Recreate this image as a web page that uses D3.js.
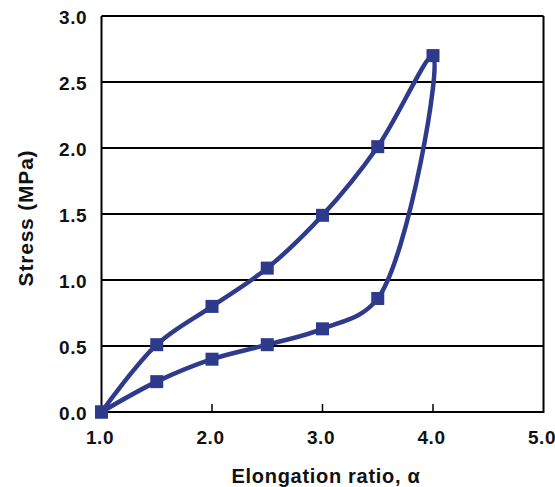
<!DOCTYPE html>
<html>
<head>
<meta charset="utf-8">
<script src="https://cdn.jsdelivr.net/npm/d3@7"></script>
<style>
  html, body { margin: 0; padding: 0; background: #fff; }
  svg { display: block; }
  text { font-family: "Liberation Sans", Arial, sans-serif; font-weight: bold; fill: #111; }
</style>
</head>
<body>
<div id="chart"></div>
<script>
  // one series, loading then unloading (smoothed line)
  const elongation = [1.0, 1.5, 2.0, 2.5, 3.0, 3.5, 4.0, 3.5, 3.0, 2.5, 2.0, 1.5, 1.0];
  const stress = [0.0, 0.51, 0.80, 1.09, 1.49, 2.01, 2.70, 0.86, 0.63, 0.51, 0.40, 0.23, 0.0];
  const xTicks = [1.0, 2.0, 3.0, 4.0, 5.0];
  const yTicks = [0.0, 0.5, 1.0, 1.5, 2.0, 2.5, 3.0];

  const W = 555, H = 487;
  const LINE = "#2e3a8c";

  const svg = d3.select("#chart").append("svg").attr("width", W).attr("height", H);

  const x = d3.scaleLinear().domain([1, 5]).range([101.5, 543.5]);
  const y = d3.scaleLinear().domain([0, 3]).range([412, 16]);

  // horizontal grid lines
  svg.append("g")
    .selectAll("line")
    .data(yTicks.slice(1))
    .join("line")
    .attr("x1", x(1)).attr("x2", x(5))
    .attr("y1", (d) => y(d)).attr("y2", (d) => y(d))
    .attr("stroke", "#000").attr("stroke-width", 2);

  // frame: left, bottom, right
  svg.append("path")
    .attr("d", `M${x(1)},${y(3)}V${y(0)}H${x(5)}V${y(3)}`)
    .attr("fill", "none").attr("stroke", "#000").attr("stroke-width", 2);

  // x tick marks pointing inward
  svg.append("g")
    .selectAll("line")
    .data(xTicks.slice(1, -1))
    .join("line")
    .attr("x1", (d) => x(d)).attr("x2", (d) => x(d))
    .attr("y1", y(0)).attr("y2", y(0) - 8)
    .attr("stroke", "#000").attr("stroke-width", 1.5);

  // tick labels
  svg.append("g")
    .selectAll("text")
    .data(yTicks)
    .join("text")
    .attr("x", 87).attr("y", (d) => y(d) + 8)
    .attr("text-anchor", "end")
    .style("font-size", "19px")
    .style("letter-spacing", "0.5px")
    .text((d) => d.toFixed(1));

  svg.append("g")
    .selectAll("text")
    .data(xTicks)
    .join("text")
    .attr("x", (d) => x(d) - 1.5).attr("y", 444)
    .attr("text-anchor", "middle")
    .style("font-size", "19px")
    .style("letter-spacing", "0.5px")
    .text((d) => d.toFixed(1));

  // axis titles
  svg.append("text")
    .attr("transform", "translate(33,218) rotate(-90)")
    .attr("text-anchor", "middle")
    .style("font-size", "21px")
    .style("letter-spacing", "0.8px")
    .text("Stress (MPa)");

  svg.append("text")
    .attr("x", 326).attr("y", 483)
    .attr("text-anchor", "middle")
    .style("font-size", "20px")
    .style("letter-spacing", "0.7px")
    .text("Elongation ratio, α");

  const pts = elongation.map((e, i) => [e, stress[i]]);

  const line = d3.line()
    .x((d) => x(d[0]))
    .y((d) => y(d[1]))
    .curve(d3.curveCatmullRom.alpha(0.5));

  svg.append("path")
    .datum(pts)
    .attr("d", line)
    .attr("fill", "none")
    .attr("stroke", LINE)
    .attr("stroke-width", 4.5)
    .attr("stroke-linejoin", "round");

  const M = 13;
  svg.append("g")
    .selectAll("rect")
    .data(pts)
    .join("rect")
    .attr("x", (d) => x(d[0]) - M / 2)
    .attr("y", (d) => y(d[1]) - M / 2)
    .attr("width", M).attr("height", M)
    .attr("fill", LINE);
</script>
</body>
</html>
